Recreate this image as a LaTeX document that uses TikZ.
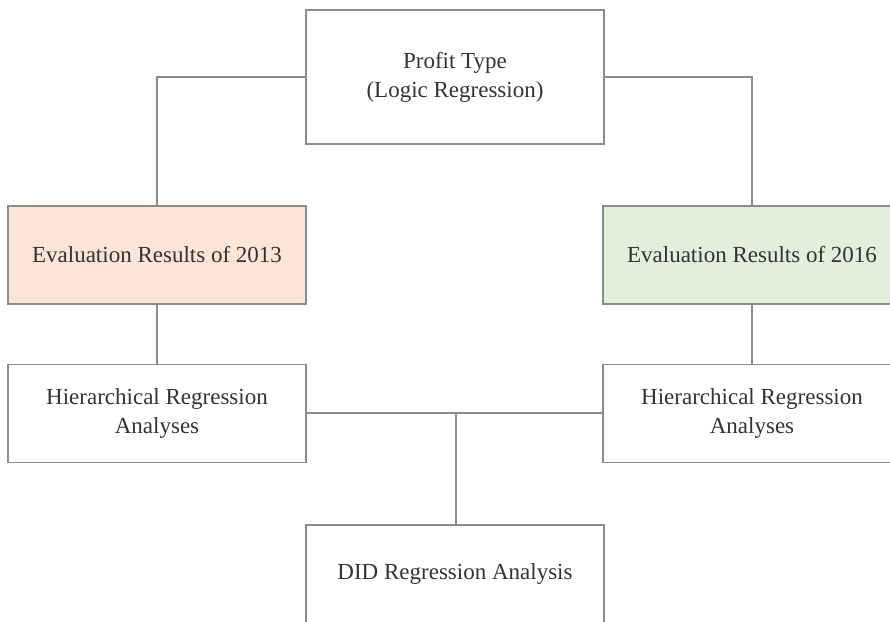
\documentclass[tikz,border=0pt]{standalone}
\usepackage{fontspec}
\setmainfont{Liberation Serif}
\definecolor{edgegray}{HTML}{8C8C8C}
\definecolor{txtgray}{HTML}{333333}
\definecolor{orangefill}{HTML}{FBE5D6}
\definecolor{greenfill}{HTML}{E2EFDA}
\begin{document}
\begin{tikzpicture}[x=1pt,y=-1pt,
  box/.style={draw=edgegray, line width=1.4pt, fill=white, rectangle,
    minimum width=298pt, minimum height=98pt, align=center, inner sep=0pt,
    text=txtgray, font=\fontsize{23}{29}\selectfont},
  link/.style={draw=edgegray, line width=1.4pt}]
\useasboundingbox (0,0) rectangle (890,621);
\clip (0,0) rectangle (890,621);
\node[box, minimum height=134pt] (top) at (455,77) {Profit Type\\(Logic Regression)};
\node[box, fill=orangefill] (e13) at (157,255) {Evaluation Results of 2013};
\node[box, fill=greenfill] (e16) at (752,255) {Evaluation Results of 2016};
\node[box] (h13) at (157,413.5) {Hierarchical Regression\\Analyses};
\node[box] (h16) at (752,413.5) {Hierarchical Regression\\Analyses};
\node[box] (did) at (455,574) {DID Regression Analysis};
\coordinate (tl) at (157,77);
\coordinate (tr) at (752,77);
\coordinate (mid) at (456,413);
\draw[link] (top.west |- tl) -- (tl) -- (e13.north);
\draw[link] (top.east |- tr) -- (tr) -- (e16.north);
\draw[link] (e13.south) -- (h13.north);
\draw[link] (e16.south) -- (h16.north);
\draw[link] (h13.east |- mid) -- (h16.west |- mid);
\draw[link] (mid) -- (mid |- did.north);
\end{tikzpicture}
\end{document}
